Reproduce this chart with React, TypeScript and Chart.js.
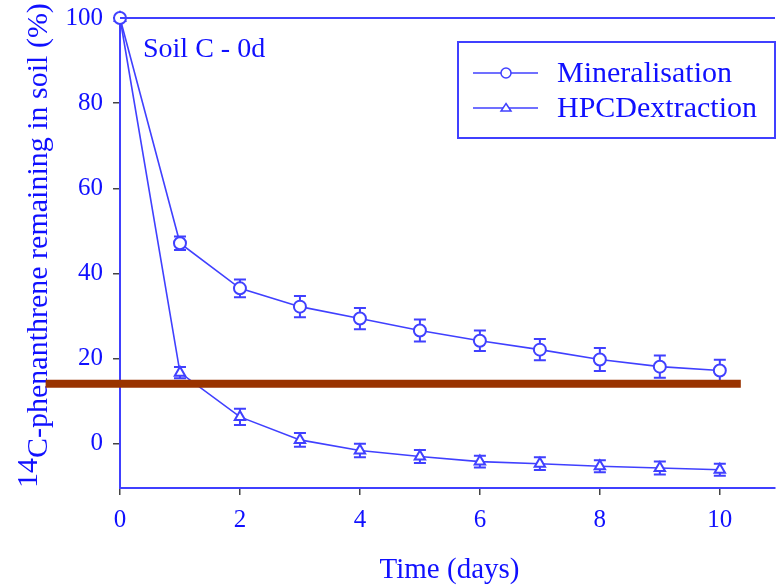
import React, { useEffect, useRef } from "react";
import { Chart, registerables } from "chart.js";

Chart.register(...registerables);

// ---- data ----
const days = [0, 1, 2, 3, 4, 5, 6, 7, 8, 9, 10];
const mineralisation = [100, 47.1, 36.5, 32.2, 29.4, 26.6, 24.2, 22.1, 19.8, 18.1, 17.2];
const mineralisationErr = [0, 1.6, 2.1, 2.5, 2.5, 2.6, 2.4, 2.5, 2.7, 2.6, 2.5];
const hpcd = [100, 16.7, 6.3, 0.9, -1.6, -3.0, -4.2, -4.7, -5.3, -5.7, -6.1];
const hpcdErr = [0, 1.3, 1.9, 1.6, 1.6, 1.5, 1.4, 1.5, 1.4, 1.5, 1.4];
const xTicks = [0, 2, 4, 6, 8, 10];
const yTicks = [0, 20, 40, 60, 80, 100];
const seriesNames = ["Mineralisation", "HPCDextraction"];
const seriesMarkers = ["circle", "triangle"];
const panelLabel = "Soil C - 0d";
const xTitle = "Time (days)";
const yTitleSup = "14";
const yTitleMain = "C-phenanthrene remaining in soil (%)";
const refLineY = 14.1;
const refLineX = [-1.24, 10.35];

const BLUE_TEXT = "#1010ff";
const BLUE_LINE = "#4040ff";
const SERIF = "'Liberation Serif', 'Times New Roman', serif";

function drawMarker(ctx: CanvasRenderingContext2D, style: string, x: number, y: number, r: number) {
  ctx.beginPath();
  if (style === "circle") {
    ctx.arc(x, y, r, 0, Math.PI * 2);
  } else {
    const h = r * 1.5;
    ctx.moveTo(x, y - h * 0.6);
    ctx.lineTo(x + r, y + h * 0.4);
    ctx.lineTo(x - r, y + h * 0.4);
    ctx.closePath();
  }
  ctx.fillStyle = "#ffffff";
  ctx.fill();
  ctx.strokeStyle = BLUE_LINE;
  ctx.lineWidth = 1.5;
  ctx.stroke();
}

const errorBarsPlugin = {
  id: "errorBars",
  beforeDatasetsDraw(chart: any) {
    const ctx = chart.ctx as CanvasRenderingContext2D;
    const xs = chart.scales.x;
    const ys = chart.scales.y;
    const sets: [number[], number[]][] = [
      [mineralisation, mineralisationErr],
      [hpcd, hpcdErr],
    ];
    ctx.save();
    ctx.strokeStyle = BLUE_LINE;
    ctx.lineWidth = 2;
    sets.forEach(([vals, errs]) => {
      vals.forEach((v, i) => {
        const e = errs[i];
        if (!e) return;
        const px = xs.getPixelForValue(days[i]);
        const pt = ys.getPixelForValue(v + e);
        const pb = ys.getPixelForValue(v - e);
        ctx.beginPath();
        ctx.moveTo(px, pt);
        ctx.lineTo(px, pb);
        ctx.moveTo(px - 6, pt);
        ctx.lineTo(px + 6, pt);
        ctx.moveTo(px - 6, pb);
        ctx.lineTo(px + 6, pb);
        ctx.stroke();
      });
    });
    ctx.restore();
  },
};

const decorPlugin = {
  id: "decor",
  afterDraw(chart: any) {
    const ctx = chart.ctx as CanvasRenderingContext2D;
    const a = chart.chartArea;
    const xs = chart.scales.x;
    const ys = chart.scales.y;
    ctx.save();

    // top frame line
    ctx.strokeStyle = BLUE_LINE;
    ctx.lineWidth = 2;
    ctx.beginPath();
    ctx.moveTo(a.left, a.top);
    ctx.lineTo(a.right, a.top);
    ctx.stroke();

    // panel label
    ctx.fillStyle = BLUE_TEXT;
    ctx.font = `28px ${SERIF}`;
    ctx.textBaseline = "alphabetic";
    ctx.textAlign = "left";
    ctx.fillText(panelLabel, a.left + 23, a.top + 39);

    // legend
    const lx = 458, ly = 42, lw = 317, lh = 96;
    ctx.strokeStyle = BLUE_LINE;
    ctx.lineWidth = 2;
    ctx.strokeRect(lx, ly, lw, lh);
    seriesNames.forEach((name, i) => {
      const cy = ly + 31 + i * 35;
      ctx.strokeStyle = BLUE_LINE;
      ctx.lineWidth = 1.5;
      ctx.beginPath();
      ctx.moveTo(lx + 15, cy);
      ctx.lineTo(lx + 80, cy);
      ctx.stroke();
      drawMarker(ctx, seriesMarkers[i], lx + 48, cy, 5);
      ctx.fillStyle = BLUE_TEXT;
      ctx.font = `30px ${SERIF}`;
      ctx.textBaseline = "middle";
      ctx.fillText(name, lx + 99, cy + 1);
    });

    // x title
    ctx.fillStyle = BLUE_TEXT;
    ctx.font = `29px ${SERIF}`;
    ctx.textAlign = "center";
    ctx.textBaseline = "alphabetic";
    ctx.fillText(xTitle, (a.left + a.right) / 2 + 2, 578);

    // y title (rotated)
    ctx.save();
    ctx.translate(47, 488);
    ctx.rotate(-Math.PI / 2);
    ctx.font = `30px ${SERIF}`;
    ctx.textAlign = "left";
    ctx.textBaseline = "alphabetic";
    ctx.fillText(yTitleSup, 0, -10);
    const sw = ctx.measureText(yTitleSup).width;
    ctx.fillText(yTitleMain, sw, 0);
    ctx.restore();

    // brown reference bar
    const yPix = ys.getPixelForValue(refLineY);
    ctx.strokeStyle = "#993300";
    ctx.lineWidth = 8;
    ctx.beginPath();
    ctx.moveTo(xs.getPixelForValue(refLineX[0]), yPix);
    ctx.lineTo(xs.getPixelForValue(refLineX[1]), yPix);
    ctx.stroke();

    ctx.restore();
  },
};

export default function App() {
  const ref = useRef<HTMLCanvasElement>(null);
  useEffect(() => {
    if (!ref.current) return;
    const mk = (vals: number[]) => days.map((d, i) => ({ x: d, y: vals[i] }));
    const chart = new Chart(ref.current, {
      type: "line",
      data: {
        datasets: [
          {
            label: seriesNames[0],
            data: mk(mineralisation),
            borderColor: BLUE_LINE,
            borderWidth: 1.6,
            pointStyle: "circle",
            pointRadius: 6,
            pointBackgroundColor: "#ffffff",
            pointBorderColor: BLUE_LINE,
            pointBorderWidth: 2,
            clip: false as any,
          },
          {
            label: seriesNames[1],
            data: mk(hpcd),
            borderColor: BLUE_LINE,
            borderWidth: 1.6,
            pointStyle: "triangle",
            pointRadius: 6,
            pointBackgroundColor: "#ffffff",
            pointBorderColor: BLUE_LINE,
            pointBorderWidth: 2,
            clip: false as any,
          },
        ],
      },
      options: {
        animation: false,
        responsive: false,
        devicePixelRatio: 1,
        layout: { padding: { top: 18, right: 0, left: 0, bottom: 0 } },
        plugins: { legend: { display: false }, tooltip: { enabled: false } },
        scales: {
          x: {
            type: "linear",
            min: 0,
            max: 10.92,
            afterBuildTicks: (s: any) => {
              s.ticks = xTicks.map((v) => ({ value: v }));
            },
            afterFit: (s: any) => {
              s.height = 99;
              s.paddingLeft = 0;
              s.paddingRight = 0;
            },
            grid: { drawOnChartArea: false, color: "#444444", tickLength: 7, lineWidth: 1.5 },
            border: { color: BLUE_LINE, width: 2 },
            ticks: {
              color: BLUE_TEXT,
              font: { family: SERIF, size: 25 },
              padding: 10,
              maxRotation: 0,
              autoSkip: false,
            },
          },
          y: {
            type: "linear",
            min: -10.4,
            max: 100,
            afterBuildTicks: (s: any) => {
              s.ticks = yTicks.map((v) => ({ value: v }));
            },
            afterFit: (s: any) => {
              s.width = 120;
              s.paddingTop = 0;
              s.paddingBottom = 0;
            },
            grid: { drawOnChartArea: false, color: "#444444", tickLength: 7, lineWidth: 1.5 },
            border: { color: BLUE_LINE, width: 2 },
            ticks: {
              color: BLUE_TEXT,
              font: { family: SERIF, size: 25 },
              padding: 10,
              autoSkip: false,
            },
          },
        },
      },
      plugins: [errorBarsPlugin, decorPlugin],
    });
    return () => chart.destroy();
  }, []);
  return (
    <div style={{ position: "fixed", left: 0, top: 0, width: 783, height: 587, background: "#ffffff" }}>
      <canvas ref={ref} width={783} height={587} style={{ display: "block", width: 783, height: 587 }} />
    </div>
  );
}
